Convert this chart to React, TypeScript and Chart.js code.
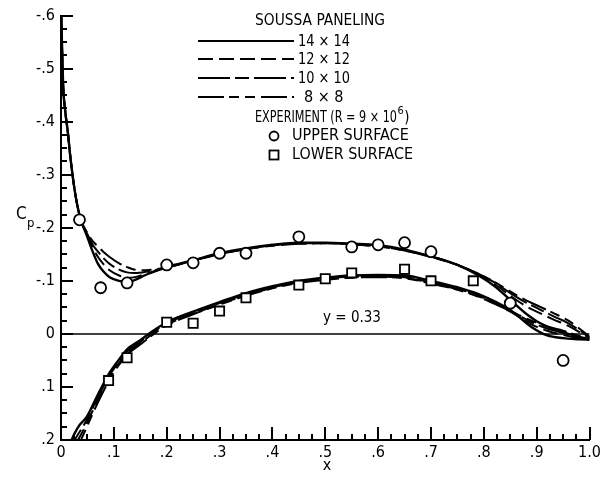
import React, { useEffect, useRef } from 'react';
import { Chart, registerables } from 'chart.js';

Chart.register(...registerables);

const FONT = "'Liberation Sans Narrow', 'DejaVu Sans Condensed', sans-serif";

// ---- tick labels ----
const xTickLabels = ['0', '.1', '.2', '.3', '.4', '.5', '.6', '.7', '.8', '.9', '1.0'];
const yTickLabels = ['-.6', '-.5', '-.4', '-.3', '-.2', '-.1', '0', '.1', '.2'];

// ---- SOUSSA paneling, upper surface ----
const upperX = [0, 0.004, 0.008, 0.013, 0.017, 0.026, 0.036, 0.049, 0.06, 0.07, 0.08, 0.092, 0.11, 0.125, 0.14, 0.16, 0.186, 0.2, 0.25, 0.3, 0.35, 0.4, 0.45, 0.5, 0.55, 0.6, 0.65, 0.7, 0.75, 0.79, 0.82, 0.85, 0.88, 0.9, 0.93, 0.96, 1.0];
const upper14 = [-0.62, -0.47, -0.42, -0.38, -0.34, -0.27, -0.22, -0.185, -0.155, -0.132, -0.118, -0.107, -0.1, -0.098, -0.102, -0.111, -0.121, -0.126, -0.139, -0.152, -0.161, -0.168, -0.172, -0.172, -0.17, -0.167, -0.159, -0.146, -0.13, -0.11, -0.09, -0.064, -0.038, -0.024, -0.01, 0.0, 0.011];
const upper12 = [-0.62, -0.47, -0.42, -0.38, -0.34, -0.27, -0.22, -0.187, -0.163, -0.145, -0.132, -0.12, -0.11, -0.106, -0.107, -0.113, -0.121, -0.125, -0.138, -0.151, -0.16, -0.167, -0.171, -0.171, -0.169, -0.165, -0.158, -0.146, -0.13, -0.112, -0.094, -0.072, -0.052, -0.042, -0.028, -0.015, 0.008];
const upper10 = [-0.62, -0.47, -0.42, -0.38, -0.34, -0.27, -0.22, -0.19, -0.168, -0.155, -0.143, -0.132, -0.121, -0.116, -0.115, -0.117, -0.122, -0.125, -0.138, -0.151, -0.16, -0.167, -0.171, -0.171, -0.169, -0.165, -0.157, -0.146, -0.13, -0.113, -0.097, -0.077, -0.059, -0.049, -0.034, -0.02, 0.006];
const upper8 = [-0.62, -0.47, -0.42, -0.38, -0.34, -0.27, -0.22, -0.192, -0.175, -0.165, -0.155, -0.145, -0.133, -0.126, -0.121, -0.12, -0.123, -0.126, -0.138, -0.15, -0.16, -0.166, -0.17, -0.171, -0.169, -0.165, -0.157, -0.145, -0.13, -0.113, -0.098, -0.08, -0.063, -0.054, -0.04, -0.025, 0.005];

// ---- SOUSSA paneling, lower surface ----
const lowerX = [0.012, 0.02, 0.026, 0.035, 0.049, 0.068, 0.092, 0.11, 0.124, 0.15, 0.173, 0.2, 0.25, 0.3, 0.35, 0.4, 0.45, 0.5, 0.55, 0.6, 0.65, 0.7, 0.75, 0.79, 0.85, 0.89, 0.92, 0.95, 0.98, 1.0];
const lower14 = [0.22, 0.2, 0.187, 0.172, 0.156, 0.118, 0.073, 0.048, 0.03, 0.012, -0.005, -0.022, -0.042, -0.06, -0.077, -0.09, -0.1, -0.106, -0.11, -0.111, -0.11, -0.1, -0.088, -0.075, -0.045, -0.013, 0.003, 0.008, 0.01, 0.011];
const lower12 = [0.24, 0.222, 0.21, 0.195, 0.168, 0.128, 0.082, 0.055, 0.037, 0.018, 0.0, -0.017, -0.038, -0.056, -0.073, -0.087, -0.097, -0.103, -0.107, -0.108, -0.106, -0.096, -0.084, -0.071, -0.042, -0.018, -0.006, 0.002, 0.008, 0.01];
const lower10 = [0.235, 0.215, 0.2, 0.185, 0.162, 0.123, 0.078, 0.052, 0.034, 0.015, -0.002, -0.02, -0.04, -0.058, -0.075, -0.088, -0.098, -0.104, -0.108, -0.109, -0.107, -0.097, -0.085, -0.072, -0.044, -0.022, -0.01, -0.002, 0.006, 0.009];
const lower8 = [0.25, 0.232, 0.22, 0.205, 0.175, 0.133, 0.086, 0.058, 0.04, 0.02, 0.002, -0.016, -0.037, -0.055, -0.072, -0.086, -0.096, -0.102, -0.106, -0.107, -0.105, -0.095, -0.083, -0.07, -0.043, -0.025, -0.014, -0.006, 0.004, 0.008];

// ---- experiment (R = 9 x 10^6) ----
const upperSurfaceX = [0.035, 0.075, 0.125, 0.2, 0.25, 0.3, 0.35, 0.45, 0.55, 0.6, 0.65, 0.7, 0.85, 0.95];
const upperSurfaceCp = [-0.215, -0.087, -0.096, -0.13, -0.134, -0.152, -0.152, -0.183, -0.164, -0.168, -0.172, -0.155, -0.058, 0.05];
const lowerSurfaceX = [0.09, 0.125, 0.2, 0.25, 0.3, 0.35, 0.45, 0.5, 0.55, 0.65, 0.7, 0.78];
const lowerSurfaceCp = [0.088, 0.045, -0.022, -0.02, -0.043, -0.068, -0.092, -0.104, -0.115, -0.122, -0.1, -0.1];

// ---- reference line ----
const zeroLineX = [0, 1];
const zeroLineCp = [0, 0];

const panelings = ['14 \u00d7 14', '12 \u00d7 12', '10 \u00d7 10', '8 \u00d7 8'];
const dashes: number[][] = [[], [15, 6], [32, 5, 14, 5], [26, 5, 10, 6, 10, 6]];

const pts = (xs: number[], ys: number[]) => xs.map((x, i) => ({ x, y: ys[i] }));

const inwardTicks = {
  id: 'inwardTicks',
  afterDatasetsDraw(chart: any) {
    const { ctx, chartArea, scales } = chart;
    const xs = scales.x;
    const ys = scales.y;
    ctx.save();
    ctx.strokeStyle = '#000';
    ctx.lineWidth = 2;
    ctx.setLineDash([]);
    for (let i = 0; i <= 32; i++) {
      const v = -0.6 + i * 0.025;
      const py = Math.round(ys.getPixelForValue(v));
      const len = i % 4 === 0 ? 12 : 6;
      ctx.beginPath();
      ctx.moveTo(chartArea.left, py);
      ctx.lineTo(chartArea.left + len, py);
      ctx.stroke();
    }
    for (let i = 0; i <= 40; i++) {
      const v = i * 0.025;
      const px = Math.round(xs.getPixelForValue(v));
      const len = i % 4 === 0 ? 13 : 6;
      ctx.beginPath();
      ctx.moveTo(px, chartArea.bottom);
      ctx.lineTo(px, chartArea.bottom - len);
      ctx.stroke();
    }
    ctx.restore();
  },
};

const annotations = {
  id: 'annotations',
  afterDraw(chart: any) {
    const { ctx } = chart;
    ctx.save();
    ctx.fillStyle = '#000';
    ctx.strokeStyle = '#000';
    ctx.textBaseline = 'middle';
    // Legend
    ctx.font = `16px ${FONT}`;
    ctx.textAlign = 'center';
    ctx.fillText('SOUSSA PANELING', 320, 21, 130);
    const rows = [41, 59, 78, 97];
    ctx.textAlign = 'left';
    rows.forEach((y, i) => {
      ctx.lineWidth = 2;
      ctx.setLineDash(dashes[i]);
      ctx.beginPath();
      ctx.moveTo(198, y);
      ctx.lineTo(294, y);
      ctx.stroke();
      ctx.setLineDash([]);
      ctx.fillText(panelings[i], i === 3 ? 304 : 298, y + 1, i === 3 ? 42 : 52);
    });
    ctx.font = `15px ${FONT}`;
    const expText = 'EXPERIMENT (R = 9 \u00d7 10';
    const expW = Math.min(ctx.measureText(expText).width, 142);
    ctx.fillText(expText, 255, 118, 142);
    ctx.font = `11px ${FONT}`;
    ctx.fillText('6', 255 + expW + 0.5, 111);
    const w6 = ctx.measureText('6').width;
    ctx.font = `15px ${FONT}`;
    ctx.fillText(')', 255 + expW + w6 + 1, 118);
    // markers
    ctx.font = `16px ${FONT}`;
    ctx.lineWidth = 1.8;
    ctx.beginPath();
    ctx.arc(274, 136, 4.5, 0, Math.PI * 2);
    ctx.stroke();
    ctx.strokeRect(269.5, 150.5, 9, 9);
    ctx.fillText('UPPER SURFACE', 292, 136, 121);
    ctx.fillText('LOWER SURFACE', 292, 155, 121);
    // inline label
    ctx.font = `15px ${FONT}`;
    ctx.textAlign = 'center';
    ctx.fillText('y = 0.33', 352, 318);
    // axis titles
    ctx.font = `16px ${FONT}`;
    ctx.fillText('x', 327, 466);
    ctx.textAlign = 'left';
    ctx.font = `17px ${FONT}`;
    ctx.fillText('C', 16, 215);
    ctx.font = `13px ${FONT}`;
    ctx.fillText('p', 27, 224);
    ctx.restore();
  },
};

export default function App() {
  const ref = useRef<HTMLCanvasElement>(null);
  useEffect(() => {
    if (!ref.current) return;
    const lineDs = (label: string, xs: number[], ys: number[], dash: number[], width = 2) => ({
      label,
      data: pts(xs, ys),
      showLine: true,
      borderColor: '#000',
      borderWidth: width,
      borderDash: dash,
      pointRadius: 0,
      fill: false,
      cubicInterpolationMode: 'monotone',
      order: 2,
    });
    const chart = new Chart(ref.current, {
      type: 'scatter',
      data: {
        datasets: [
          {
            label: 'UPPER SURFACE',
            data: pts(upperSurfaceX, upperSurfaceCp),
            pointStyle: 'circle',
            pointRadius: 5.5,
            pointBorderWidth: 1.8,
            pointBackgroundColor: '#fff',
            pointBorderColor: '#000',
            showLine: false,
            order: 0,
          },
          {
            label: 'LOWER SURFACE',
            data: pts(lowerSurfaceX, lowerSurfaceCp),
            pointStyle: 'rect',
            pointRadius: 6.5,
            pointBorderWidth: 1.8,
            pointBackgroundColor: '#fff',
            pointBorderColor: '#000',
            showLine: false,
            order: 0,
          },
          lineDs('14x14 upper', upperX, upper14, dashes[0], 2.4),
          lineDs('12x12 upper', upperX, upper12, dashes[1]),
          lineDs('10x10 upper', upperX, upper10, dashes[2]),
          lineDs('8x8 upper', upperX, upper8, dashes[3]),
          lineDs('14x14 lower', lowerX, lower14, dashes[0], 2.4),
          lineDs('12x12 lower', lowerX, lower12, dashes[1]),
          lineDs('10x10 lower', lowerX, lower10, dashes[2]),
          lineDs('8x8 lower', lowerX, lower8, dashes[3]),
          {
            label: 'zero line',
            data: pts(zeroLineX, zeroLineCp),
            showLine: true,
            borderColor: '#000',
            borderWidth: 1.5,
            pointRadius: 0,
            order: 3,
          },
        ] as any,
      },
      options: {
        responsive: false,
        maintainAspectRatio: false,
        devicePixelRatio: 1,
        animation: false,
        layout: { padding: { top: 15, right: 11, left: 0, bottom: 0 } },
        plugins: { legend: { display: false }, tooltip: { enabled: false } },
        scales: {
          x: {
            type: 'linear',
            min: 0,
            max: 1,
            grid: { display: false, drawTicks: false },
            border: { display: true, color: '#000', width: 2 },
            ticks: {
              stepSize: 0.1,
              autoSkip: false,
              maxRotation: 0,
              padding: 3,
              color: '#000',
              font: { family: FONT, size: 16 },
              callback: (v: any) => xTickLabels[Math.round(Number(v) * 10)] ?? '',
            },
            afterFit: (s: any) => { s.height = 37; },
          },
          y: {
            type: 'linear',
            min: -0.6,
            max: 0.2,
            reverse: true,
            grid: { display: false, drawTicks: false },
            border: { display: true, color: '#000', width: 2 },
            ticks: {
              stepSize: 0.1,
              autoSkip: false,
              padding: 6,
              color: '#000',
              font: { family: FONT, size: 16 },
              callback: (v: any) => yTickLabels[Math.round((Number(v) + 0.6) * 10)] ?? '',
            },
            afterFit: (s: any) => { s.width = 61; },
          },
        },
      },
      plugins: [inwardTicks, annotations],
    });
    return () => chart.destroy();
  }, []);
  return (
    <div style={{ position: 'absolute', left: 0, top: 0, width: 604, height: 477, background: '#fff' }}>
      <canvas ref={ref} width={604} height={477} style={{ display: 'block' }} />
    </div>
  );
}
